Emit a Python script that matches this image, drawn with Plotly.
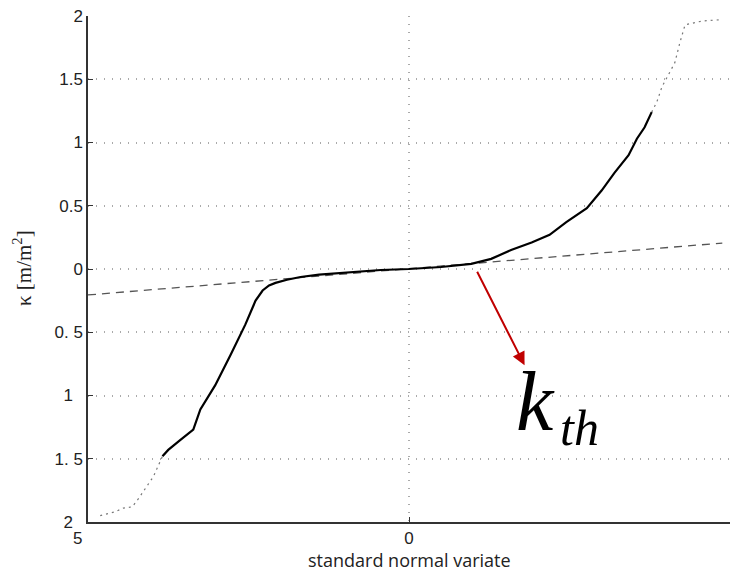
import plotly.graph_objects as go

# main (solid) part of the curve
x_main = [-3.84, -3.75, -3.56, -3.36, -3.25, -3.02, -2.78, -2.55, -2.39, -2.28, -2.18, -2.08,
          -1.9, -1.69, -1.4, -1.06, -0.75, -0.44, 0.0, 0.5, 0.97, 1.28, 1.59, 1.91, 2.19, 2.45, 2.77,
          3.0, 3.2, 3.42, 3.55, 3.67, 3.78]
y_main = [-1.48, -1.43, -1.35, -1.27, -1.11, -0.92, -0.68, -0.44, -0.25, -0.17, -0.13, -0.11,
          -0.085, -0.063, -0.045, -0.03, -0.018, -0.008, 0.0, 0.016, 0.04, 0.08, 0.15, 0.21, 0.27, 0.37, 0.48,
          0.62, 0.76, 0.90, 1.03, 1.12, 1.24]

# sparse tails
x_low = [-4.81, -4.58, -4.45, -4.31, -4.22, -4.14, -4.06, -3.98, -3.91, -3.84]
y_low = [-1.95, -1.92, -1.89, -1.88, -1.82, -1.76, -1.69, -1.64, -1.56, -1.48]
x_high = [3.78, 3.86, 3.94, 4.14, 4.22, 4.30, 4.56, 4.83]
y_high = [1.24, 1.32, 1.44, 1.63, 1.79, 1.93, 1.96, 1.97]

# dashed reference line
x_ref = [-5.0, 4.88]
y_ref = [-0.205, 0.205]

y_tickvals = [2, 1.5, 1, 0.5, 0, -0.5, -1, -1.5, -2]
y_ticktext = ["2", "1.5", "1", "0.5", "0", "0. 5", "1\u2002\u200a", "1. 5", "2\u2002\u200a"]
x_tickvals = [-5, 0, 5]
x_ticktext = ["5\u2003\u2009", "0", "5"]

fig = go.Figure()
fig.add_trace(go.Scatter(x=x_ref, y=y_ref, mode="lines",
                         line=dict(color="#555555", width=1.3, dash="8px,6px")))
fig.add_trace(go.Scatter(x=x_low, y=y_low, mode="lines",
                         line=dict(color="#777777", width=1.2, dash="2px,4px")))
fig.add_trace(go.Scatter(x=x_high, y=y_high, mode="lines",
                         line=dict(color="#777777", width=1.2, dash="2px,4px")))
fig.add_trace(go.Scatter(x=x_main, y=y_main, mode="lines",
                         line=dict(color="black", width=2.2)))

fig.add_annotation(x=1.8, y=-0.76, ax=1.05, ay=-0.01, xref="x", yref="y",
                   axref="x", ayref="y", text="", showarrow=True,
                   arrowhead=2, arrowsize=1.3, arrowwidth=2, arrowcolor="#c00000")
fig.add_annotation(xref="x", yref="y", x=1.97, y=-1.05, text="<i>k</i>",
                   showarrow=False, font=dict(family="Liberation Serif", size=84, color="black"))
fig.add_annotation(xref="x", yref="y", x=2.66, y=-1.26, text="<i>th</i>",
                   showarrow=False, font=dict(family="Liberation Serif", size=50, color="black"))

# axis titles
fig.add_annotation(xref="paper", yref="paper", x=0.5, y=0, yshift=-38,
                   xanchor="center", yanchor="middle", showarrow=False,
                   text="standard normal variate",
                   font=dict(family="Open Sans", size=18, color="#222222"))
fig.add_annotation(xref="paper", yref="paper", x=0, y=0.502, xshift=-65,
                   xanchor="center", yanchor="middle", showarrow=False, textangle=-90,
                   text="κ [m/m<sup>2</sup>]",
                   font=dict(family="Liberation Serif", size=21, color="#222222"))

fig.update_layout(
    width=731, height=572,
    margin=dict(l=88, r=1, t=16, b=50, autoexpand=False),
    plot_bgcolor="white", paper_bgcolor="white",
    showlegend=False,
    font=dict(family="Liberation Sans", size=17, color="#222222"),
)
fig.update_xaxes(range=[-5, 5], tickvals=x_tickvals, ticktext=x_ticktext, automargin=False,
                 showgrid=True, gridcolor="#aaaaaa", griddash="1px,7px", gridwidth=1.5,
                 zeroline=False, showline=True, linecolor="#333333", linewidth=1.5,
                 ticks="inside", ticklen=5, tickcolor="#333333")
fig.update_yaxes(range=[-2, 2], tickvals=y_tickvals, ticktext=y_ticktext, automargin=False,
                 showgrid=True, gridcolor="#aaaaaa", griddash="1px,7px", gridwidth=1.5,
                 zeroline=False, showline=True, linecolor="#333333", linewidth=1.5,
                 ticks="inside", ticklen=5, tickcolor="#333333")

fig.write_html("out.html", config={"displayModeBar": False},
               post_script="document.body.style.margin='0';document.body.style.overflow='hidden';")
